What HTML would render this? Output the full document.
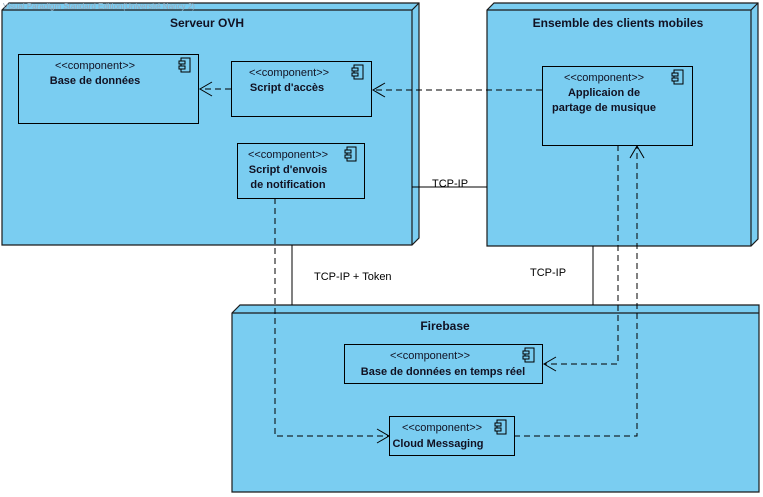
<!DOCTYPE html>
<html><head><style>body{margin:0;background:#fff}svg{display:block}</style></head><body>
<svg width="763" height="497" viewBox="0 0 763 497" xmlns="http://www.w3.org/2000/svg" font-family="Liberation Sans, sans-serif">
<defs>
<g id="ic"><rect x="2" y="0" width="9" height="14" fill="none" stroke="#000"/><rect x="0" y="3" width="6" height="3" fill="#7acdf1" stroke="#000"/><rect x="0" y="8" width="6" height="3" fill="#7acdf1" stroke="#000"/></g>
</defs>
<g stroke="#1a1a1a" stroke-width="1.2" fill="#7acdf1">
<polygon points="2,10 9,3 419,3 419,238 412,245 2,245"/>
<polyline points="2,10 412,10 419,3" fill="none"/><line x1="412" y1="10" x2="412" y2="245"/>
<polygon points="487,10 494,3 758,3 758,239 751,246 487,246"/>
<polyline points="487,10 751,10 758,3" fill="none"/><line x1="751" y1="10" x2="751" y2="246"/>
<polygon points="232,313 240,305 759,305 759,492 232,492"/>
<polyline points="232,313 759,313" fill="none"/>
</g>
<text x="3" y="9" font-size="8" fill="#9ab">Visual Paradigm Standard Edition(Université Nancy 2)</text>
<g font-weight="bold" font-size="12" fill="#112" text-anchor="middle">
<text x="207" y="27">Serveur OVH</text>
<text x="618" y="27">Ensemble des clients mobiles</text>
<text x="445" y="330">Firebase</text>
</g>
<g stroke="#000" stroke-width="1">
<line x1="412" y1="187" x2="487" y2="187"/>
<line x1="292" y1="245" x2="292" y2="305"/>
<line x1="593" y1="246" x2="593" y2="305"/>
</g>
<g font-size="11" fill="#000">
<text x="432" y="187">TCP-IP</text>
<text x="314" y="280">TCP-IP + Token</text>
<text x="530" y="276">TCP-IP</text>
</g>
<g stroke="#000" stroke-width="1" fill="#7acdf1">
<rect x="18.5" y="54.5" width="180" height="69"/>
<rect x="231.5" y="61.5" width="140" height="55"/>
<rect x="237.5" y="143.5" width="127" height="55"/>
<rect x="542.5" y="66.5" width="150" height="79"/>
<rect x="344.5" y="344.5" width="198" height="39"/>
<rect x="389.5" y="416.5" width="125" height="39"/>
</g>
<use href="#ic" x="179" y="58"/><use href="#ic" x="352" y="65"/><use href="#ic" x="345" y="147"/>
<use href="#ic" x="672" y="70"/><use href="#ic" x="523" y="348"/><use href="#ic" x="495" y="420"/>
<g font-size="11" fill="#112" text-anchor="middle">
<text x="95" y="69">&lt;&lt;component&gt;&gt;</text>
<text x="289" y="76">&lt;&lt;component&gt;&gt;</text>
<text x="288" y="158">&lt;&lt;component&gt;&gt;</text>
<text x="604" y="81">&lt;&lt;component&gt;&gt;</text>
<text x="430" y="359">&lt;&lt;component&gt;&gt;</text>
<text x="442" y="431">&lt;&lt;component&gt;&gt;</text>
</g>
<g font-size="11" font-weight="bold" fill="#112" text-anchor="middle">
<text x="95" y="84">Base de données</text>
<text x="287" y="91">Script d'accès</text>
<text x="288" y="173">Script d'envois</text>
<text x="288" y="188">de notification</text>
<text x="604" y="96">Applicaion de</text>
<text x="604" y="111">partage de musique</text>
<text x="443" y="375">Base de données en temps réel</text>
<text x="438" y="447">Cloud Messaging</text>
</g>
<g stroke="#000" stroke-width="1" fill="none" stroke-dasharray="6,4">
<line x1="542" y1="90" x2="373" y2="90"/>
<line x1="231" y1="89" x2="200" y2="89"/>
<polyline points="275,198 275,436 388,436"/>
<polyline points="618,145 618,364 544,364"/>
<polyline points="514,436 637,436 637,147"/>
</g>
<g stroke="#000" stroke-width="1" fill="none">
<polyline points="385,83 373,90 385,97"/>
<polyline points="212,82 200,89 212,96"/>
<polyline points="377,429 389,436 377,443"/>
<polyline points="556,357 544,364 556,371"/>
<polyline points="630,158 637,146 644,158"/>
</g>
</svg>
</body></html>
